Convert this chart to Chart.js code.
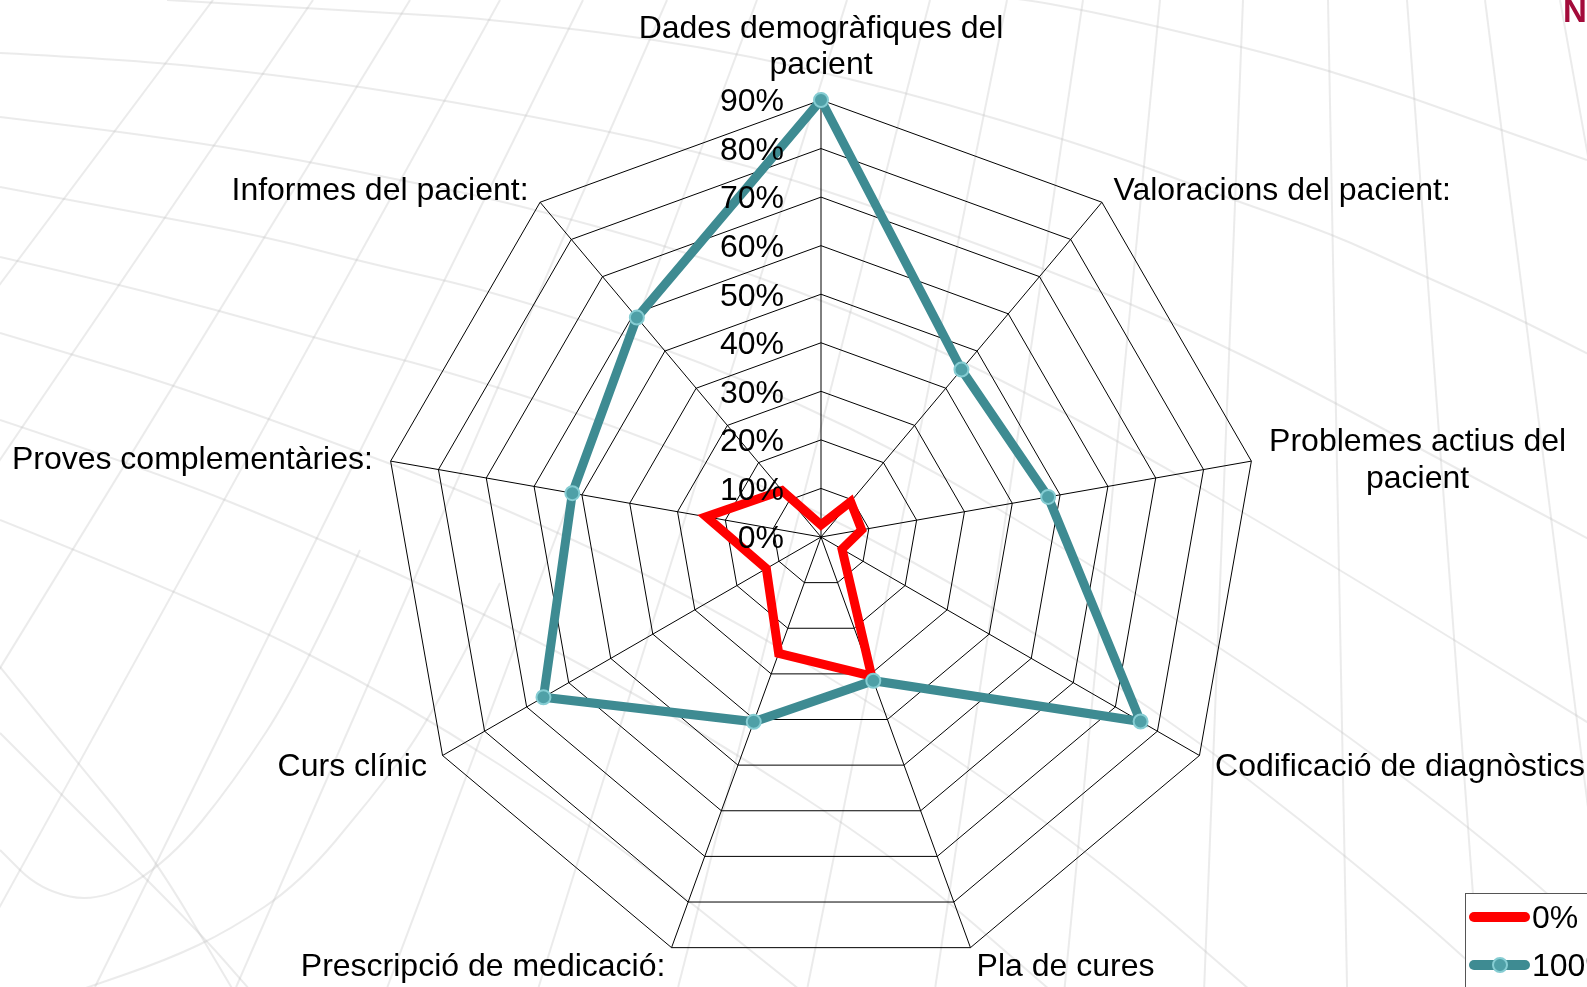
<!DOCTYPE html>
<html>
<head>
<meta charset="utf-8">
<script src="https://cdn.jsdelivr.net/npm/chart.js@4.4.1/dist/chart.umd.min.js"></script>
<style>
  html, body { margin: 0; padding: 0; background: #fff; }
  #chart { display: block; }
</style>
</head>
<body>
<canvas id="chart" width="1587" height="987"></canvas>
<script>
// Categories (clockwise from the top)
const categories = [
    ['Dades demogràfiques del', 'pacient'],
    'Valoracions del pacient:',
    ['Problemes actius del', 'pacient'],
    'Codificació de diagnòstics',
    'Pla de cures',
    'Prescripció de medicació:',
    'Curs clínic',
    'Proves complementàries:',
    'Informes del pacient:'
];

// Series values (%)
const serie0 = [2.5, 9.5, 8.5, 5, 30.5, 25.5, 13, 24, 12.5];
const serie100 = [90, 45, 47.5, 76, 31.5, 40.5, 66, 52, 59];

const seriesNames = ['0%', '100%'];
const axisMin = 0;
const axisMax = 90;
const axisStep = 10;

const FONT = '"Liberation Sans", Arial, Helvetica, sans-serif';
const RED = '#FF0000';
const TEAL = '#3E8B92';
const TEXT_SHIFT = 2.5; // baseline correction

// ---- background mesh (decoration of the slide template) ----
const meshCurves = [
    [[850, -20], [1000, -5], [1100, 13], [1243, 47], [1327, 70], [1410, 97], [1493, 127], [1587, 160]],
    [[167, 0], [400, 13], [500, 20], [700, 45], [900, 90], [1100, 150], [1233, 200], [1330, 233], [1417, 273], [1507, 313], [1600, 360]],
    [[0, 53], [133, 60], [250, 72], [350, 85], [500, 110], [700, 150], [900, 215], [1100, 290], [1233, 350], [1330, 400], [1450, 465], [1600, 545]],
    [[0, 117], [83, 127], [200, 143], [300, 160], [400, 180], [500, 200], [700, 255], [900, 330], [1100, 430], [1300, 545], [1600, 730]],
    [[0, 187], [140, 213], [267, 237], [367, 263], [500, 293], [700, 360], [900, 450], [1100, 570], [1300, 700], [1500, 850], [1650, 987]],
    [[0, 257], [100, 280], [217, 310], [333, 343], [433, 367], [600, 420], [800, 500], [1000, 610], [1200, 740], [1400, 900], [1500, 990]],
    [[0, 333], [67, 353], [167, 383], [300, 430], [500, 505], [700, 600], [900, 720], [1100, 860], [1250, 990]],
    [[0, 420], [150, 470], [300, 530], [500, 620], [700, 730], [900, 860], [1050, 990]],
    [[0, 520], [200, 600], [400, 700], [600, 830], [800, 990]],
    [[0, 667], [67, 750], [150, 850], [233, 990]],
    [[0, 733], [100, 833], [200, 933], [250, 990]],
    [[360, 550], [300, 680], [233, 783], [170, 860], [100, 903], [40, 890], [0, 850]],
    [[500, 583], [433, 717], [370, 800], [300, 883], [230, 930], [167, 960], [80, 990]]
];
const meridianTops = [213, 313, 410, 500, 583, 667, 757, 847, 930, 1007, 1083, 1160, 1243, 1328, 1407, 1485, 1560];
const meridianPole = { x: 1300, y: -1450 };

const backgroundMesh = {
    id: 'backgroundMesh',
    beforeDraw(chart) {
        const ctx = chart.ctx;
        ctx.save();
        ctx.fillStyle = '#fff';
        ctx.fillRect(0, 0, chart.width, chart.height);
        ctx.strokeStyle = 'rgba(190,190,190,0.3)';
        ctx.lineWidth = 2;
        meshCurves.forEach(pts => {
            ctx.beginPath();
            ctx.moveTo(pts[0][0], pts[0][1]);
            for (let i = 1; i < pts.length - 1; i++) {
                const mx = (pts[i][0] + pts[i + 1][0]) / 2;
                const my = (pts[i][1] + pts[i + 1][1]) / 2;
                ctx.quadraticCurveTo(pts[i][0], pts[i][1], mx, my);
            }
            const last = pts[pts.length - 1];
            ctx.lineTo(last[0], last[1]);
            ctx.stroke();
        });
        const H = chart.height;
        meridianTops.forEach(x0 => {
            const k = (H - meridianPole.y) / (0 - meridianPole.y);
            ctx.beginPath();
            ctx.moveTo(x0, 0);
            ctx.lineTo(meridianPole.x + (x0 - meridianPole.x) * k, H);
            ctx.stroke();
        });
        ctx.restore();
    }
};

// ---- tick labels and category labels ----
const axisText = {
    id: 'axisText',
    afterDatasetsDraw(chart) {
        const scale = chart.scales.r;
        const ctx = chart.ctx;
        ctx.save();
        ctx.font = `32px ${FONT}`;
        ctx.fillStyle = '#000';
        ctx.textBaseline = 'middle';

        // tick labels, left of the vertical axis
        ctx.textAlign = 'right';
        scale.ticks.forEach(t => {
            const y = scale.yCenter - scale.getDistanceFromCenterForValue(t.value);
            ctx.fillText(t.value + '%', scale.xCenter - 37, y + TEXT_SHIFT);
        });

        // category labels outside the polygon
        const lineH = 36.5;
        ctx.textAlign = 'center';
        chart.data.labels.forEach((lab, i) => {
            const lines = Array.isArray(lab) ? lab : [lab];
            const p = scale.getPointPosition(i, scale.drawingArea + 18);
            const w = Math.max(...lines.map(l => ctx.measureText(l).width));
            let cx = p.x;
            if (p.x - scale.xCenter > 1) cx = p.x + w / 2;
            else if (p.x - scale.xCenter < -1) cx = p.x - w / 2;
            lines.forEach((l, j) => {
                let y;
                if (i === 0) {
                    y = p.y - 19 - (lines.length - 1 - j) * lineH;
                } else {
                    y = p.y + (j - (lines.length - 1) / 2) * lineH;
                }
                ctx.fillText(l, cx, y + TEXT_SHIFT);
            });
        });
        ctx.restore();
    }
};

// ---- legend box in the lower right corner + template letter ----
const cornerLegend = {
    id: 'cornerLegend',
    afterDraw(chart) {
        const ctx = chart.ctx;
        ctx.save();
        ctx.fillStyle = '#fff';
        ctx.fillRect(1465, 893, 140, 110);
        ctx.strokeStyle = '#555';
        ctx.lineWidth = 1;
        ctx.strokeRect(1465.5, 893.5, 140, 110);

        ctx.font = `32px ${FONT}`;
        ctx.textAlign = 'left';
        ctx.textBaseline = 'middle';
        chart.data.datasets.forEach((ds, i) => {
            const y = 917 + i * 48;
            ctx.strokeStyle = ds.borderColor;
            ctx.lineWidth = 10;
            ctx.lineCap = 'round';
            ctx.beginPath();
            ctx.moveTo(1474, y);
            ctx.lineTo(1525, y);
            ctx.stroke();
            if (ds.pointRadius) {
                ctx.beginPath();
                ctx.arc(1500, y, ds.pointRadius, 0, Math.PI * 2);
                ctx.fillStyle = ds.pointBackgroundColor;
                ctx.fill();
                ctx.lineWidth = ds.pointBorderWidth;
                ctx.strokeStyle = ds.pointBorderColor;
                ctx.stroke();
            }
            ctx.fillStyle = '#000';
            ctx.fillText(ds.label, 1532, y + TEXT_SHIFT);
        });

        ctx.fillStyle = '#A30B3A';
        ctx.font = `bold 33px ${FONT}`;
        ctx.textBaseline = 'alphabetic';
        ctx.fillText('N', 1563, 22);
        ctx.restore();
    }
};

const chart = new Chart(document.getElementById('chart'), {
    type: 'radar',
    data: {
        labels: categories,
        datasets: [
            {
                label: seriesNames[0],
                data: serie0,
                borderColor: RED,
                borderWidth: 9,
                pointRadius: 0,
                fill: false,
                order: 1
            },
            {
                label: seriesNames[1],
                data: serie100,
                borderColor: TEAL,
                borderWidth: 9,
                pointRadius: 7,
                pointBackgroundColor: '#4FA0A7',
                pointBorderColor: '#86CDD3',
                pointBorderWidth: 2,
                fill: false,
                order: 0
            }
        ]
    },
    options: {
        responsive: false,
        animation: false,
        events: [],
        layout: { padding: { top: 100, bottom: 13, left: 55, right: 0 } },
        plugins: {
            legend: { display: false },
            tooltip: { enabled: false }
        },
        scales: {
            r: {
                min: axisMin,
                max: axisMax,
                ticks: { display: false, stepSize: axisStep },
                pointLabels: { display: false },
                grid: { color: '#000', lineWidth: 1 },
                angleLines: { color: '#000', lineWidth: 1 }
            }
        }
    },
    plugins: [backgroundMesh, axisText, cornerLegend]
});
</script>
</body>
</html>
